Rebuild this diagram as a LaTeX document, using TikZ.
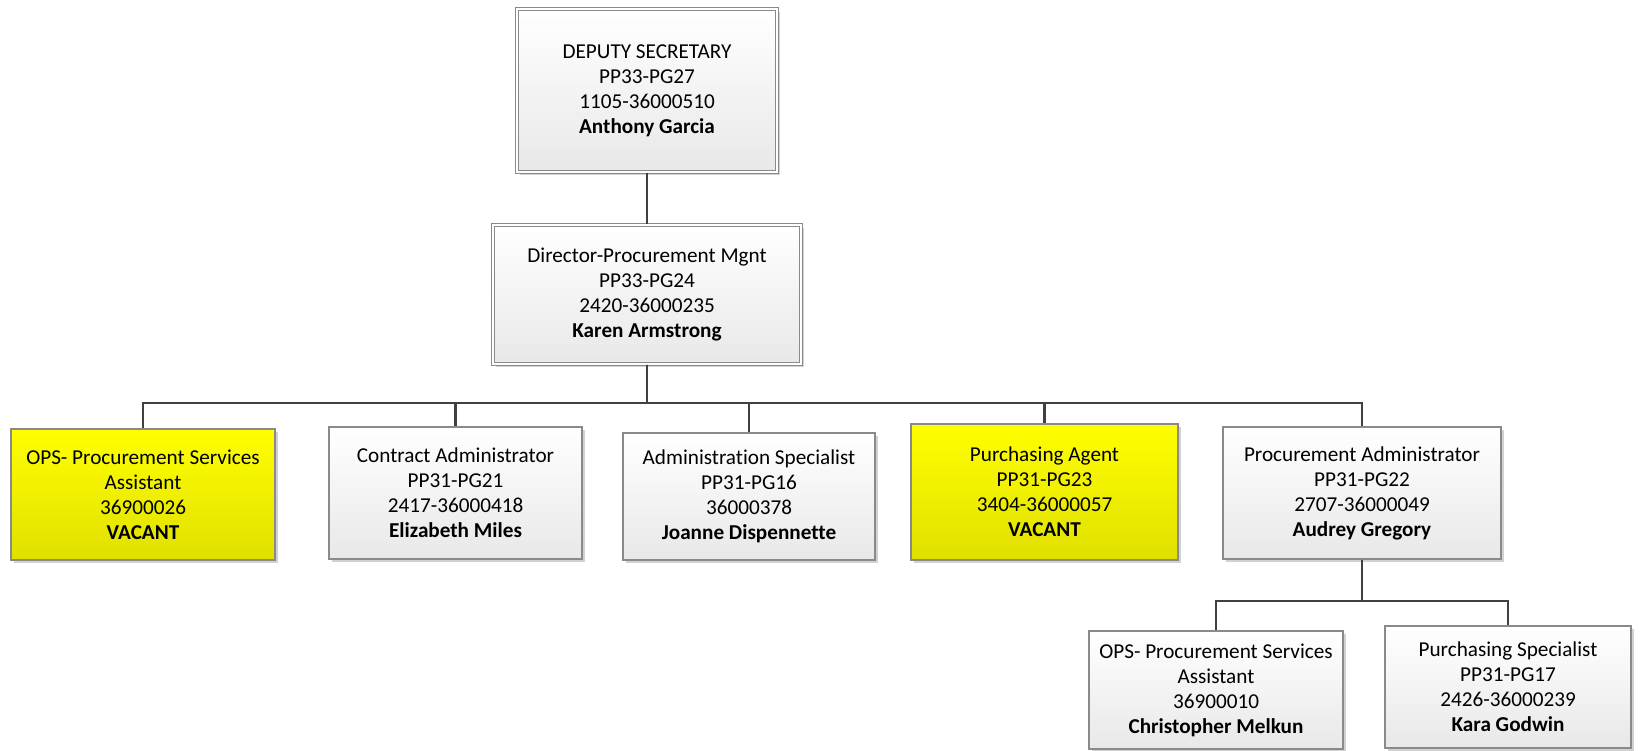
\documentclass[tikz,border=0pt]{standalone}
\usepackage{fontspec}
\setmainfont[Ligatures=NoCommon]{Carlito}
\usetikzlibrary{shadows}
\definecolor{lineC}{HTML}{404040}
\definecolor{boxBorder}{HTML}{8A8A8A}
\begin{document}
\begin{tikzpicture}[x=1pt,y=-1pt,
  box/.style={rectangle, draw=boxBorder, line width=1.3pt, align=center,
    top color=white, bottom color=black!9, inner sep=0pt,
    font=\fontsize{21.2}{25}\selectfont,
    drop shadow={shadow xshift=3pt, shadow yshift=-3pt, fill=black!18, opacity=1}},
  ybox/.style={box, top color=yellow, bottom color={rgb,255:red,224;green,224;blue,0}},
  dbox/.style={box, double=white, double distance=2pt, line width=1.1pt},
  conn/.style={draw=lineC, line width=2.4pt}]
\useasboundingbox (0,0) rectangle (1640,751);
\newcommand{\bx}[7]{% name, style, x1, y1, x2, y2, text
  \node[#2, minimum width={#5-#3}, minimum height={#6-#4}] (#1) at ({(#3+#5)/2},{(#4+#6)/2}) {#7};}
\bx{dep}{dbox}{517}{9}{777}{172}{DEPUTY SECRETARY\\PP33-PG27\\1105-36000510\\\textbf{Anthony Garcia}}
\bx{dir}{dbox}{493}{225}{801}{364}{Director-Procurement Mgnt\\PP33-PG24\\2420-36000235\\\textbf{Karen Armstrong}}
\bx{ops}{ybox}{11}{429}{275}{560}{OPS- Procurement Services\\Assistant\\36900026\\\textbf{VACANT}}
\bx{con}{box}{329}{427}{582}{559}{Contract Administrator\\PP31-PG21\\2417-36000418\\\textbf{Elizabeth Miles}}
\bx{adm}{box}{623}{433}{875}{560}{Administration Specialist\\PP31-PG16\\36000378\\\textbf{Joanne Dispennette}}
\bx{pag}{ybox}{911}{424}{1178}{560}{Purchasing Agent\\PP31-PG23\\3404-36000057\\\textbf{VACANT}}
\bx{pad}{box}{1223}{427}{1501}{559}{Procurement Administrator\\PP31-PG22\\2707-36000049\\\textbf{Audrey Gregory}}
\bx{ops2}{box}{1089}{631}{1343}{749}{OPS- Procurement Services\\Assistant\\36900010\\\textbf{Christopher Melkun}}
\bx{psp}{box}{1385}{626}{1631}{748}{Purchasing Specialist\\PP31-PG17\\2426-36000239\\\textbf{Kara Godwin}}
\coordinate (bus) at (647,403);
\coordinate (bus2) at (1361,601);
\draw[conn] (dep.south) -- (dir.north);
\foreach \c in {ops,con,adm,pag,pad}
  \draw[conn] (dir.south) -- (dir.south |- bus) -| (\c.north);
\foreach \c in {ops2,psp}
  \draw[conn] (pad.south) -- (pad.south |- bus2) -| (\c.north);
\end{tikzpicture}
\end{document}
